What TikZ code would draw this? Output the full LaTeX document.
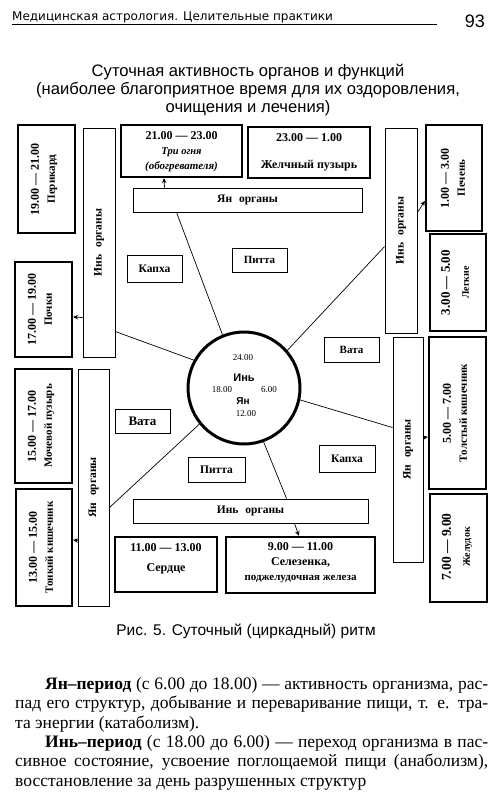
\documentclass[tikz,border=0pt]{standalone}
\usepackage{fontspec}
\setmainfont{Liberation Serif}
\newfontfamily\sansf{Liberation Sans}
\newfontfamily\hdrf{DejaVu Sans}
\usetikzlibrary{arrows.meta}
\begin{document}
\begin{tikzpicture}[x=1pt,y=-1pt,
  organ/.style={draw, line width=2.2pt, inner sep=0pt},
  thinbox/.style={draw, line width=0.9pt, inner sep=0pt},
  vt/.style={rotate=90, align=center, inner sep=0pt, font=\fontsize{12}{16}\selectfont\bfseries},
  ht/.style={align=center, inner sep=0pt, font=\fontsize{12}{15}\selectfont\bfseries},
  lbl/.style={inner sep=0pt, font=\fontsize{11.5}{13}\selectfont\bfseries},
  conn/.style={line width=0.7pt},
  arr/.style={line width=0.7pt, -{Stealth[length=5pt,width=4.5pt]}},
  ctxt/.style={inner sep=0pt, font=\fontsize{9}{10}\selectfont},
]
\useasboundingbox (0,0) rectangle (500,800);

% header
\node[anchor=base west, inner sep=0, font=\hdrf\fontsize{12}{13}\selectfont] (hdr) at (12,21) {Медицинская астрология. Целительные практики};
\draw[line width=1.1pt] (12,24.5) -- (437,24.5);
\node[anchor=base east, inner sep=0, font=\sansf\fontsize{18}{20}\selectfont] (pg) at (485,28) {93};

% title (base anchor = last line)
\node[align=center, inner sep=0, font=\sansf\fontsize{16.6}{18}\selectfont, anchor=base] (title) at (248,112)
 {Суточная активность органов и функций\\(наиболее благоприятное время для их оздоровления,\\очищения и лечения)};

% organ boxes left
\node[organ, minimum width=57, minimum height=108] (perikard) at (46.5,179) {};
\node[vt] (perikardT) at (44,179) {19.00 — 21.00\\{\fontsize{11}{16}\selectfont Перикард}};
\node[organ, minimum width=57, minimum height=95] (pochki) at (43.5,309.5) {};
\node[vt] (pochkiT) at (40,309.5) {17.00 — 19.00\\{\fontsize{11}{16}\selectfont Почки}};
\node[organ, minimum width=57, minimum height=114] (mochev) at (43.5,426) {};
\node[vt] (mochevT) at (41,426) {15.00 — 17.00\\{\fontsize{11}{16}\selectfont Мочевой пузырь}};
\node[organ, minimum width=56, minimum height=117] (tonk) at (44,547.5) {};
\node[vt] (tonkT) at (41,547.5) {13.00 — 15.00\\{\fontsize{11}{16}\selectfont Тонкий кишечник}};

% organ boxes right
\node[organ, minimum width=56, minimum height=106] (pechen) at (454,178) {};
\node[vt] (pechenT) at (453,178) {1.00 — 3.00\\{\fontsize{11}{16}\selectfont Печень}};
\node[organ, minimum width=56, minimum height=97] (legk) at (458,282.5) {};
\node[vt, font=\fontsize{13}{19}\selectfont\bfseries] (legkT) at (455,282.5) {3.00 — 5.00\\{\fontsize{10}{19}\selectfont Легкие}};
\node[organ, minimum width=57, minimum height=152] (tolst) at (457.5,413) {};
\node[vt] (tolstT) at (455,413) {5.00 — 7.00\\{\fontsize{11}{16}\selectfont Толстый кишечник}};
\node[organ, minimum width=57, minimum height=108] (zhel) at (458.5,548) {};
\node[vt, font=\fontsize{13.5}{19}\selectfont\bfseries] (zhelT) at (457,547) {7.00 — 9.00\\{\fontsize{10}{19}\selectfont Желудок}};

% top boxes
\node[organ, minimum width=121, minimum height=52] (tri) at (181.5,151) {};
\node[ht] (triT) at (181.5,152) {21.00 — 23.00\\{\itshape\fontsize{10.5}{15}\selectfont Три огня}\\{\itshape\fontsize{11}{15}\selectfont (обогревателя)}};
\node[organ, minimum width=122, minimum height=51] (zhp) at (309,152.5) {};
\node[ht, font=\fontsize{12}{27}\selectfont\bfseries] (zhpT) at (309,152) {23.00 — 1.00\\Желчный пузырь};

% bottom boxes
\node[organ, minimum width=102, minimum height=55] (serd) at (166,564.5) {};
\node[ht, font=\fontsize{12}{20}\selectfont\bfseries] (serdT) at (166,559) {11.00 — 13.00\\Сердце};
\node[organ, minimum width=149, minimum height=56] (selez) at (300.5,565) {};
\node[ht] (selezT) at (300.5,563) {9.00 — 11.00\\Селезенка,\\{\fontsize{11}{15}\selectfont поджелудочная железа}};

% yin / yang organ strips
\node[thinbox, minimum width=32, minimum height=229] (yinUL) at (99,242.5) {};
\node[lbl, rotate=90] (yinULT) at (yinUL) {Инь\hspace{0.6em}органы};
\node[thinbox, minimum width=31, minimum height=237] (yanLL) at (93.5,487.5) {};
\node[lbl, rotate=90] (yanLLT) at (yanLL) {Ян\hspace{0.6em}органы};
\node[thinbox, minimum width=32, minimum height=205] (yinUR) at (401,230.5) {};
\node[lbl, rotate=90] (yinURT) at (yinUR) {Инь\hspace{0.6em}органы};
\node[thinbox, minimum width=30, minimum height=225] (yanLR) at (408,449.5) {};
\node[lbl, rotate=90] (yanLRT) at (yanLR) {Ян\hspace{0.6em}органы};
\node[thinbox, minimum width=229, minimum height=24] (yanTop) at (247.5,200) {};
\node[lbl] (yanTopT) at (yanTop) {Ян\hspace{0.6em}органы};
\node[thinbox, minimum width=235, minimum height=24] (yinBot) at (250.5,511) {};
\node[lbl] (yinBotT) at (yinBot) {Инь\hspace{0.6em}органы};

% dosha labels
\node[thinbox, lbl, minimum width=55, minimum height=27] (kapha1) at (154.5,268.5) {Капха};
\node[thinbox, lbl, minimum width=55, minimum height=24, font=\fontsize{11}{13}\selectfont\bfseries] (pitta1) at (259.5,260) {Питта};
\node[thinbox, lbl, minimum width=55, minimum height=25, font=\fontsize{11}{13}\selectfont\bfseries] (vata1) at (351.5,349.5) {Вата};
\node[thinbox, lbl, minimum width=55, minimum height=24, font=\fontsize{13}{15}\selectfont\bfseries] (vata2) at (142.5,421) {Вата};
\node[thinbox, lbl, minimum width=57, minimum height=25] (pitta2) at (216.5,469.5) {Питта};
\node[thinbox, lbl, minimum width=56, minimum height=27] (kapha2) at (347,458.5) {Капха};

% central circle
\node[circle, draw, line width=3pt, minimum size=112, inner sep=0pt] (circ) at (244,388) {};
\node[ctxt] (c24) at (243,358) {24.00};
\node[inner sep=0pt, font=\sansf\bfseries\fontsize{11}{12}\selectfont] (cyin) at (244,378) {Инь};
\node[ctxt] (c18) at (222,390) {18.00};
\node[ctxt] (c6) at (269,390) {6.00};
\node[inner sep=0pt, font=\sansf\bfseries\fontsize{10}{12}\selectfont] (cyan) at (243,401) {Ян};
\node[ctxt] (c12) at (246,414) {12.00};

% connectors from circle
\draw[conn] (circ.112.5) -- ([xshift=44pt]yanTop.south west);
\draw[conn] (circ.41) -- ([yshift=-119pt]yinUR.north west);
\draw[conn] (circ.-12) -- ([yshift=-91pt]yanLR.north west);
\draw[conn] (circ.219) -- ([yshift=-139pt]yanLL.north east);
\draw[conn] (circ.151) -- ([yshift=-204pt]yinUL.north east);
\draw[conn] (circ.-70) -- ([xshift=154pt]yinBot.north west);

% arrows to organ boxes
\draw[arr] ([xshift=32pt]yanTop.north west) -- ([xshift=44pt]tri.south west);
\draw[arr] ([yshift=-85pt]yinUR.north east) -- ([yshift=-77pt]pechen.north west);
\draw[arr] ([yshift=-101pt]yanLR.north east) -- ([yshift=-101pt]tolst.north west);
\draw[arr] ([yshift=-172pt]yanLL.north west) -- ([yshift=-52pt]tonk.north east);
\draw[arr] ([yshift=-190pt]yinUL.north west) -- ([yshift=-56pt]pochki.north east);
\draw[arr] ([xshift=162pt]yinBot.south west) -- ([xshift=74pt]selez.north west);

% caption
\node[anchor=base, inner sep=0, font=\sansf\fontsize{15.5}{17}\selectfont] (cap) at (246,635) {Рис. 5. Суточный (циркадный) ритм};

% body text
\node[anchor=north west, inner sep=0, align=left, font=\fontsize{17.5}{19.4}\selectfont] (body) at (15,677) {%
\hbox to 473pt{\hspace*{30pt}\textbf{Ян–период} (с 6.00 до 18.00) — активность организма, рас-}\\
\hbox to 473pt{пад его структур, добывание и переваривание пищи, т. е. тра-}\\
та энергии (катаболизм).\\
\hbox to 473pt{\hspace*{30pt}\textbf{Инь–период} (с 18.00 до 6.00) — переход организма в пас-}\\
\hbox to 473pt{сивное состояние, усвоение поглощаемой пищи (анаболизм),}\\
восстановление за день разрушенных структур};
\end{tikzpicture}
\end{document}
